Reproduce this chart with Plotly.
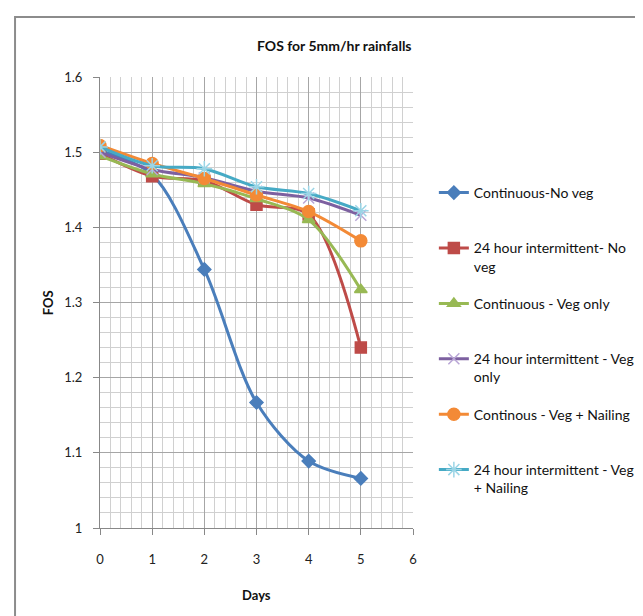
import plotly.graph_objects as go

days = [0, 1, 2, 3, 4, 5]
series_names = [
    "Continuous-No veg",
    "24 hour intermittent- No<br>veg",
    "Continuous - Veg only",
    "24 hour intermittent - Veg<br>only",
    "Continous - Veg + Nailing",
    "24 hour intermittent - Veg<br>+ Nailing",
]
cont_no_veg = [1.502, 1.470, 1.344, 1.167, 1.089, 1.066]
int_no_veg = [1.498, 1.468, 1.462, 1.430, 1.417, 1.240]
cont_veg = [1.495, 1.471, 1.458, 1.438, 1.410, 1.317]
int_veg = [1.500, 1.477, 1.466, 1.448, 1.439, 1.416]
cont_veg_nail = [1.509, 1.485, 1.465, 1.443, 1.421, 1.382]
int_veg_nail = [1.507, 1.482, 1.478, 1.454, 1.445, 1.422]
x_ticks = [0, 1, 2, 3, 4, 5, 6]
y_ticks = [1.0, 1.1, 1.2, 1.3, 1.4, 1.5, 1.6]
y_tick_text = ["1", "1.1", "1.2", "1.3", "1.4", "1.5", "1.6"]

values = [cont_no_veg, int_no_veg, cont_veg, int_veg, cont_veg_nail, int_veg_nail]
colors = ["#4A7EBB", "#BE4B48", "#98B954", "#7D60A0", "#F38A36", "#46AAC5"]
symbols = ["diamond", "square", "triangle-up", "x-thin", "circle", "asterisk"]
sizes = [10, 11, 11, 11, 12, 13]
mline = ["#4A7EBB", "#BE4B48", "#98B954", "#B9A6D6", "#F38A36", "#9BD5E6"]

FONT = "Lato"
fig = go.Figure()
for i, (nm, vals) in enumerate(zip(series_names, values)):
    name = nm if "<br>" in nm else nm + "<br> "
    fig.add_trace(go.Scatter(
        x=days, y=vals, name=name, mode="lines+markers",
        line=dict(color=colors[i], width=3, shape="spline", smoothing=0.9),
        marker=dict(symbol=symbols[i], size=sizes[i], color=colors[i],
                    line=dict(color=mline[i], width=1.5)),
        legendgroup="g%d" % i,
    ))

W, H = 643, 616
L, R, T, B = 92, 236, 69, 96
pw, ph = W - L - R, H - T - B

def px(xp):
    return (xp - L) / pw

def py(yp):
    return (H - B - yp) / ph

fig.update_layout(
    width=W, height=H,
    margin=dict(l=L, r=R, t=T, b=B),
    paper_bgcolor="white", plot_bgcolor="white",
    font=dict(family=FONT, size=13, color="#222"),
    legend=dict(x=px(428), y=py(169), xanchor="left", yanchor="top",
                font=dict(family=FONT, size=14, color="#111"),
                valign="top", tracegroupgap=16, itemwidth=30,
                bgcolor="rgba(0,0,0,0)"),
    showlegend=True,
    xaxis=dict(range=[0, 6], tickvals=x_ticks, showgrid=True,
               gridcolor="#A6A6A6", gridwidth=1,
               minor=dict(dtick=0.2, showgrid=True, gridcolor="#D0D0D0", gridwidth=1),
               showline=True, linecolor="#888", linewidth=1,
               ticks="outside", ticklen=6, tickcolor="#888",
               ticklabelstandoff=13, zeroline=False,
               tickfont=dict(family=FONT, size=13, color="#222")),
    yaxis=dict(range=[1.0, 1.6], tickvals=y_ticks, ticktext=y_tick_text,
               showgrid=True, gridcolor="#A6A6A6", gridwidth=1,
               minor=dict(dtick=0.02, showgrid=True, gridcolor="#D0D0D0", gridwidth=1),
               showline=True, linecolor="#888", linewidth=1,
               ticks="outside", ticklen=6, tickcolor="#888",
               ticklabelstandoff=8, zeroline=False,
               tickfont=dict(family=FONT, size=13, color="#222")),
    annotations=[
        dict(text="<b>FOS for 5mm/hr rainfalls</b>", x=px(328), y=py(38),
             xref="paper", yref="paper", showarrow=False,
             xanchor="center", yanchor="middle",
             font=dict(family=FONT, size=14, color="#111")),
        dict(text="<b>Days</b>", x=px(249), y=py(587),
             xref="paper", yref="paper", showarrow=False,
             xanchor="center", yanchor="middle",
             font=dict(family=FONT, size=13, color="#111")),
        dict(text="<b>FOS</b>", x=px(40), y=py(295), textangle=-90,
             xref="paper", yref="paper", showarrow=False,
             xanchor="center", yanchor="middle",
             font=dict(family=FONT, size=13, color="#111")),
    ],
    shapes=[dict(type="rect", xref="paper", yref="paper",
                 x0=px(6.5), x1=px(660), y0=py(640), y1=py(9),
                 line=dict(color="#8C8C8C", width=2), layer="below")],
)

fig.write_html("out.html")
